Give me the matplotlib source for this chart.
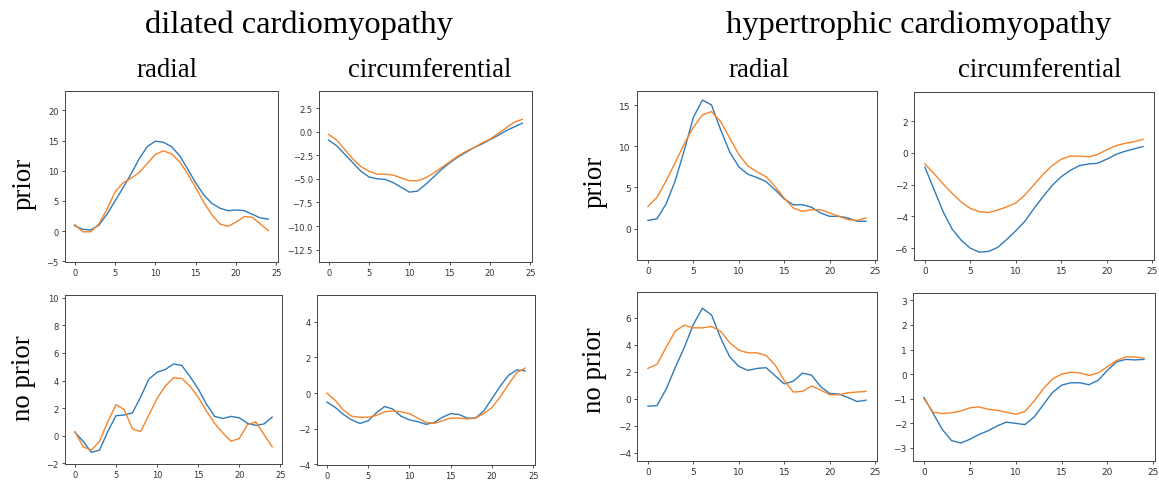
import numpy as np
import matplotlib
matplotlib.use("Agg")
import matplotlib.pyplot as plt
from matplotlib.ticker import MultipleLocator

############################
# Data
############################

frames = np.arange(25)

# dilated cardiomyopathy
dcm_rad_prior_true = [0.9, 0.3, 0.2, 1.0, 2.8, 5.0, 7.2, 9.5, 12.0, 14.0, 14.9, 14.7, 14.0,
                      12.5, 10.3, 8.0, 6.0, 4.6, 3.8, 3.4, 3.5, 3.4, 2.8, 2.2, 2.0]
dcm_rad_prior_pred = [1.1, -0.1, -0.1, 1.2, 3.6, 6.5, 8.0, 8.8, 9.7, 11.2, 12.7, 13.3, 12.8,
                      11.5, 9.5, 7.2, 4.8, 2.7, 1.2, 0.8, 1.5, 2.4, 2.3, 1.2, 0.1]

dcm_circ_prior_true = [-0.9, -1.5, -2.4, -3.3, -4.2, -4.8, -5.0, -5.05, -5.4, -5.9, -6.4, -6.3, -5.6,
                       -4.8, -4.0, -3.3, -2.7, -2.2, -1.7, -1.3, -0.85, -0.4, 0.1, 0.5, 0.9]
dcm_circ_prior_pred = [-0.3, -0.9, -1.9, -2.9, -3.7, -4.2, -4.5, -4.5, -4.6, -4.9, -5.2, -5.2, -4.9,
                       -4.4, -3.8, -3.2, -2.6, -2.1, -1.7, -1.2, -0.8, -0.2, 0.4, 1.0, 1.3]

dcm_rad_noprior_true = [0.25, -0.4, -1.2, -1.05, 0.3, 1.45, 1.5, 1.65, 2.8, 4.1, 4.6, 4.8, 5.2,
                        5.1, 4.3, 3.4, 2.3, 1.4, 1.25, 1.4, 1.3, 0.9, 0.75, 0.85, 1.35]
dcm_rad_noprior_pred = [0.3, -0.8, -1.05, -0.4, 1.0, 2.25, 1.9, 0.5, 0.3, 1.5, 2.7, 3.6, 4.2,
                        4.15, 3.6, 2.8, 1.8, 0.9, 0.2, -0.4, -0.2, 0.8, 1.0, 0.1, -0.8]

dcm_circ_noprior_true = [-0.5, -0.8, -1.2, -1.5, -1.7, -1.55, -1.1, -0.75, -0.9, -1.3, -1.5, -1.6, -1.75,
                         -1.65, -1.35, -1.15, -1.2, -1.4, -1.4, -1.0, -0.3, 0.4, 1.0, 1.3, 1.25]
dcm_circ_noprior_pred = [0.0, -0.4, -0.95, -1.3, -1.35, -1.35, -1.25, -1.05, -1.0, -1.05, -1.15, -1.4, -1.65,
                         -1.7, -1.55, -1.4, -1.4, -1.45, -1.4, -1.15, -0.8, -0.2, 0.5, 1.15, 1.4]

# hypertrophic cardiomyopathy
hcm_rad_prior_true = [1.0, 1.2, 3.0, 5.8, 9.5, 13.5, 15.6, 15.0, 12.0, 9.3, 7.5, 6.6, 6.2,
                      5.7, 4.7, 3.6, 2.9, 2.9, 2.6, 1.9, 1.5, 1.5, 1.3, 0.9, 0.9]
hcm_rad_prior_pred = [2.7, 3.8, 5.8, 8.0, 10.3, 12.3, 13.8, 14.2, 13.0, 11.0, 9.0, 7.6, 6.9,
                      6.3, 5.1, 3.7, 2.5, 2.1, 2.3, 2.3, 1.9, 1.5, 1.1, 1.0, 1.3]

hcm_circ_prior_true = [-0.9, -2.3, -3.7, -4.8, -5.5, -6.0, -6.25, -6.2, -5.95, -5.45, -4.9, -4.3, -3.5,
                       -2.75, -2.05, -1.5, -1.1, -0.8, -0.7, -0.65, -0.4, -0.1, 0.1, 0.25, 0.4]
hcm_circ_prior_pred = [-0.7, -1.3, -1.95, -2.55, -3.1, -3.5, -3.7, -3.75, -3.6, -3.4, -3.15, -2.65, -2.0,
                       -1.35, -0.8, -0.4, -0.2, -0.2, -0.25, -0.1, 0.2, 0.45, 0.6, 0.7, 0.85]

hcm_rad_noprior_true = [-0.55, -0.5, 0.7, 2.3, 3.8, 5.5, 6.7, 6.2, 4.5, 3.1, 2.4, 2.1, 2.25,
                        2.3, 1.7, 1.1, 1.3, 1.9, 1.75, 0.9, 0.4, 0.35, 0.1, -0.2, -0.1]
hcm_rad_noprior_pred = [2.25, 2.55, 3.8, 5.0, 5.45, 5.25, 5.25, 5.35, 5.0, 4.15, 3.6, 3.4, 3.4,
                        3.2, 2.5, 1.35, 0.5, 0.55, 0.95, 0.65, 0.3, 0.3, 0.45, 0.5, 0.55]

hcm_circ_noprior_true = [-0.95, -1.6, -2.25, -2.7, -2.8, -2.65, -2.45, -2.3, -2.1, -1.95, -2.0, -2.05, -1.75,
                         -1.25, -0.75, -0.45, -0.35, -0.35, -0.43, -0.25, 0.15, 0.5, 0.6, 0.58, 0.6]
hcm_circ_noprior_pred = [-1.0, -1.55, -1.6, -1.57, -1.5, -1.37, -1.33, -1.43, -1.47, -1.55, -1.63, -1.52, -1.1,
                         -0.6, -0.2, 0.0, 0.08, 0.05, -0.05, 0.05, 0.3, 0.55, 0.7, 0.7, 0.65]

group_titles = ["dilated cardiomyopathy", "hypertrophic cardiomyopathy"]
col_titles = ["radial", "circumferential"]
row_titles = ["prior", "no prior"]

############################
# Layout (pixel boxes: left, top, right, bottom)
############################

W, H = 1159, 481
BLUE = "#2f7bba"
ORANGE = "#f5842a"
SERIF = "Liberation Serif"

panels = [
    # box, true, pred, ylim, y step, tick size
    ((65, 92, 278, 263), dcm_rad_prior_true, dcm_rad_prior_pred, (-5.1, 23.2), 5, 6),
    ((319, 92, 532, 263), dcm_circ_prior_true, dcm_circ_prior_pred, (-13.8, 4.3), 2.5, 6),
    ((65, 296, 282, 465), dcm_rad_noprior_true, dcm_rad_noprior_pred, (-2.05, 10.2), 2, 6),
    ((317, 296, 535, 466), dcm_circ_noprior_true, dcm_circ_noprior_pred, (-4.03, 5.5), 2, 6),
    ((637, 92, 877, 261), hcm_rad_prior_true, hcm_rad_prior_pred, (-3.8, 16.7), 5, 6.5),
    ((914, 93, 1154, 261), hcm_circ_prior_true, hcm_circ_prior_pred, (-6.74, 3.83), 2, 6.5),
    ((637, 293, 877, 462), hcm_rad_noprior_true, hcm_rad_noprior_pred, (-4.6, 7.9), 2, 6.5),
    ((913, 294, 1155, 462), hcm_circ_noprior_true, hcm_circ_noprior_pred, (-3.53, 3.3), 1, 6.5),
]

fig = plt.figure(figsize=(W / 100, H / 100), dpi=100)

for (l, t, r, b), y_true, y_pred, ylim, ystep, tsize in panels:
    ax = fig.add_axes([l / W, 1 - b / H, (r - l) / W, (b - t) / H])
    ax.plot(frames, y_true, color=BLUE, linewidth=1.0)
    ax.plot(frames, y_pred, color=ORANGE, linewidth=1.0)
    ax.set_ylim(*ylim)
    ax.yaxis.set_major_locator(MultipleLocator(ystep))
    ax.set_xticks([0, 5, 10, 15, 20, 25])
    ax.tick_params(labelsize=tsize, length=2.5, width=0.6, pad=2, colors="#333333")
    for s in ax.spines.values():
        s.set_linewidth(0.7)
        s.set_color("#444444")

# headings
fig.text(299 / W, 1 - 33 / H, group_titles[0], family=SERIF, fontsize=23.4,
         ha="center", va="baseline")
fig.text(919 / W, 1 - 33 / H, group_titles[1], family=SERIF, fontsize=23.4,
         ha="center", va="baseline")

for cx in (167, 759):
    fig.text(cx / W, 1 - 77 / H, col_titles[0], family=SERIF, fontsize=19.3,
             ha="center", va="baseline")
for cx in (430, 1040):
    fig.text(cx / W, 1 - 77 / H, col_titles[1], family=SERIF, fontsize=19.3,
             ha="center", va="baseline")

for cx, rows in ((24, (184, 378)), (595, (182, 370))):
    for cy, label in zip(rows, row_titles):
        fig.text(cx / W, 1 - cy / H, label, family=SERIF, fontsize=19.3,
                 rotation=90, ha="center", va="center")

fig.savefig("out.png", dpi=100)
